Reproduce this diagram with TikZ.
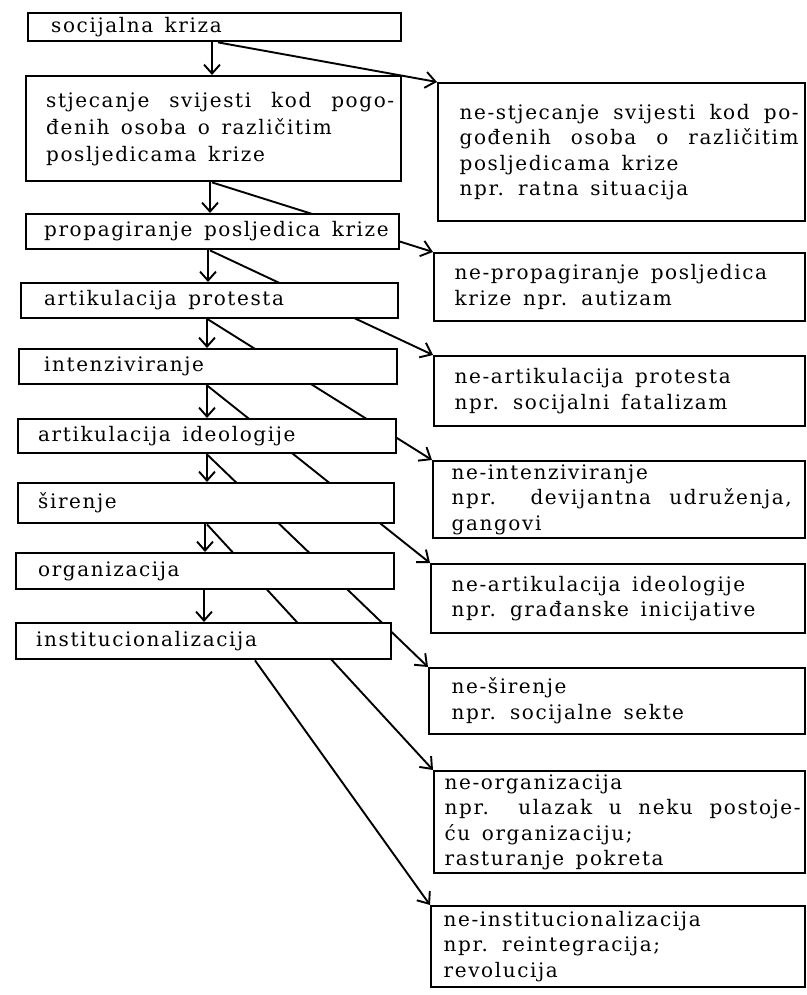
\documentclass[tikz,border=0pt]{standalone}
\usepackage{fontspec}
\setmainfont{DejaVu Serif}[LetterSpace=8,WordSpace=1.45]
\usetikzlibrary{arrows.meta}
\pgfdeclarelayer{bg}
\pgfsetlayers{bg,main}
\newcommand\tbx[3]{\hspace*{#1pt}\makebox[#2pt][l]{\begin{tabular}{@{}l@{}}#3\end{tabular}}}
\newcommand\jl[2]{\makebox[#1pt][s]{#2}}
\begin{document}
\begin{tikzpicture}[x=1pt,y=-1pt,
  box/.style={draw, line width=2.4pt, inner sep=0pt, anchor=north west, font=\fontsize{20}{25.5}\selectfont},
  lbox/.style={box, fill=white},
  dline/.style={line width=1.9pt, -{Straight Barb[length=10pt,width=16pt]}},
  darr/.style={line width=1.9pt, -{Straight Barb[length=9pt,width=16pt]}}]
\useasboundingbox (0,0) rectangle (806,995);
% left column
\node[lbox, minimum width=373pt, minimum height=28pt] (L1) at (27,12) {\tbx{23}{350}{socijalna kriza}};
\node[lbox, minimum width=375pt, minimum height=105pt] (L2) at (25,75) {\def\arraystretch{1.06}\tbx{20}{355}{\jl{348}{stjecanje svijesti kod pogo-}\\ đenih osoba o različitim\\ posljedicama krize}};
\node[lbox, minimum width=373pt, minimum height=35pt] (L3) at (25,213) {\tbx{18}{355}{propagiranje posljedica krize}};
\node[lbox, minimum width=377pt, minimum height=35pt] (L4) at (20,282) {\tbx{23}{354}{artikulacija protesta}};
\node[lbox, minimum width=378pt, minimum height=35pt] (L5) at (18,348) {\tbx{25}{353}{intenziviranje}};
\node[lbox, minimum width=378pt, minimum height=34pt] (L6) at (17,418) {\tbx{20}{358}{artikulacija ideologije}};
\node[lbox, minimum width=376pt, minimum height=40pt] (L7) at (17,482) {\tbx{20}{356}{širenje}};
\node[lbox, minimum width=378pt, minimum height=36pt] (L8) at (15,552) {\tbx{22}{356}{organizacija}};
\node[lbox, minimum width=375pt, minimum height=36pt] (L9) at (15,622) {\tbx{20}{355}{institucionalizacija}};
% right column
\node[box, minimum width=367pt, minimum height=138pt] (R1) at (437,82) {\tbx{21}{345}{\jl{339}{ne-stjecanje svijesti kod po-}\\ \jl{339}{gođenih osoba o različitim}\\ posljedicama krize\\ npr. ratna situacija}};
\node[box, minimum width=371pt, minimum height=68pt] (R2) at (433,252) {\tbx{20}{350}{ne-propagiranje posljedica\\ krize npr. autizam}};
\node[box, minimum width=371pt, minimum height=70pt] (R3) at (433,355) {\tbx{20}{350}{ne-artikulacija protesta\\ npr. socijalni fatalizam}};
\node[box, minimum width=372pt, minimum height=75pt] (R4) at (432,460) {\tbx{18}{353}{ne-intenziviranje\\ \jl{340}{npr. devijantna udruženja,}\\ gangovi}};
\node[box, minimum width=374pt, minimum height=69pt] (R5) at (430,563) {\tbx{20}{353}{ne-artikulacija ideologije\\ npr. građanske inicijative}};
\node[box, minimum width=376pt, minimum height=66pt] (R6) at (428,667) {\tbx{22}{353}{ne-širenje\\ npr. socijalne sekte}};
\node[box, minimum width=371pt, minimum height=98pt] (R7) at (433,770) {\tbx{10}{360}{ne-organizacija\\ \jl{356}{npr. ulazak u neku postoje-}\\ ću organizaciju;\\ rasturanje pokreta}};
\node[box, minimum width=374pt, minimum height=81pt] (R8) at (430,905) {\tbx{12}{361}{ne-institucionalizacija\\ npr. reintegracija;\\ revolucija}};
% start points
\coordinate (s1) at ([xshift=185pt]L1.south west);
\coordinate (s2) at ([xshift=185pt]L2.south west);
\coordinate (s3) at ([xshift=183pt]L3.south west);
\coordinate (s4) at ([xshift=187pt]L4.south west);
\coordinate (s5) at ([xshift=189pt]L5.south west);
\coordinate (s6) at ([xshift=190pt]L6.south west);
\coordinate (s7) at ([xshift=188pt]L7.south west);
\coordinate (s8) at ([xshift=189pt]L8.south west);
\coordinate (s9) at ([xshift=240pt]L9.south west);
% diagonals (behind the left boxes)
\begin{pgfonlayer}{bg}
\draw[dline] ([xshift=6pt]s1) -- (R1.north west);
\draw[dline] ([xshift=2pt]s2) -- (R2.north west);
\draw[dline] ([xshift=2pt]s3) -- (R3.north west);
\draw[dline] ([xshift=1pt]s4) -- (R4.north west);
\draw[dline] (s5) -- (R5.north west);
\draw[dline] (s6) -- (R6.north west);
\draw[dline] ([xshift=2pt]s7) -- (R7.north west);
\draw[dline] (s9) -- (R8.north west);
\end{pgfonlayer}
% down arrows
\draw[darr] (s1) -- (s1 |- L2.north);
\draw[darr] (s2) -- (s2 |- L3.north);
\draw[darr] (s3) -- (s3 |- L4.north);
\draw[darr] (s4) -- (s4 |- L5.north);
\draw[darr] (s5) -- (s5 |- L6.north);
\draw[darr] (s6) -- (s6 |- L7.north);
\draw[darr] (s7) -- (s7 |- L8.north);
\draw[darr] (s8) -- (s8 |- L9.north);
\end{tikzpicture}
\end{document}
